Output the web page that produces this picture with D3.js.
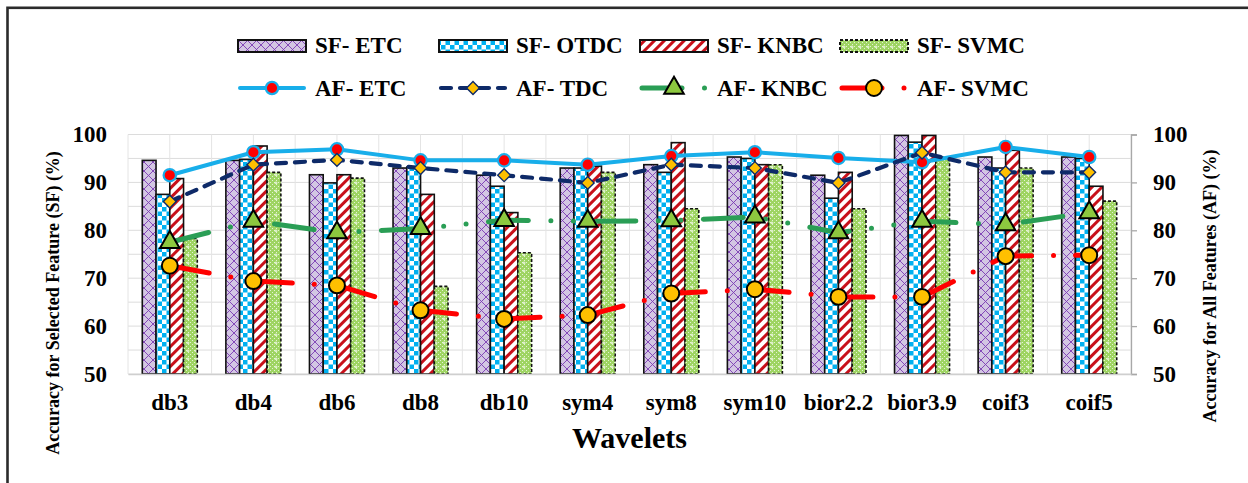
<!DOCTYPE html>
<html>
<head>
<meta charset="utf-8">
<script src="https://cdn.jsdelivr.net/npm/d3@7"></script>
<style>
  body { margin: 0; background: #fff; }
  text { font-family: "Liberation Serif", "Times New Roman", serif; font-weight: bold; fill: #000; }
</style>
</head>
<body>
<svg id="chart" width="1248" height="483"></svg>
<script>
// Wavelet families on the x axis
const categories = ["db3", "db4", "db6", "db8", "db10", "sym4", "sym8", "sym10", "bior2.2", "bior3.9", "coif3", "coif5"];

// Accuracy (%) using the selected features (bars, left axis)
const sfETC  = [94.6, 94.6, 91.6, 93.0, 91.5, 93.0, 93.7, 95.3, 91.5, 99.8, 95.3, 95.3];
const sfOTDC = [87.5, 94.8, 89.9, 93.2, 89.2, 93.0, 92.1, 95.0, 86.7, 98.4, 93.0, 95.0];
const sfKNBC = [90.8, 97.6, 91.6, 87.5, 83.7, 93.4, 98.3, 93.7, 92.1, 99.8, 96.7, 89.2];
const sfSVMC = [78.3, 92.1, 90.9, 68.3, 75.3, 92.1, 84.5, 93.7, 84.5, 95.3, 93.0, 86.1];

// Accuracy (%) using all features (lines, right axis)
const afETC  = [91.5, 96.3, 96.9, 94.6, 94.6, 93.7, 95.5, 96.3, 95.1, 94.2, 97.4, 95.3];
const afTDC  = [86.0, 93.7, 94.7, 93.0, 91.5, 89.9, 93.7, 93.0, 89.9, 96.2, 92.1, 92.1];
const afKNBC = [77.5, 81.9, 79.5, 80.4, 82.1, 81.9, 82.0, 82.8, 79.5, 81.9, 81.2, 83.7];
const afSVMC = [72.6, 69.4, 68.5, 63.3, 61.5, 62.3, 66.8, 67.7, 66.1, 66.1, 74.6, 74.8];

// Axis ticks
const yTicks = [50, 60, 70, 80, 90, 100];
const gridTicks = [50, 55, 60, 65, 70, 75, 80, 85, 90, 95, 100];

(function () {
const serif = '"Liberation Serif", "Times New Roman", serif';

const barSeries = [
  { name: "SF- ETC",  values: sfETC,  fill: "url(#pETC)",  dash: null },
  { name: "SF- OTDC", values: sfOTDC, fill: "url(#pOTDC)", dash: null },
  { name: "SF- KNBC", values: sfKNBC, fill: "url(#pKNBC)", dash: null },
  { name: "SF- SVMC", values: sfSVMC, fill: "url(#pSVMC)", dash: "3,2" }
];

const lineSeries = [
  { name: "AF- ETC",  values: afETC,  color: "#18AEEA", width: 4, dash: null, cap: "round",
    marker: "circle", mSize: 120, mFill: "#FF0000", mStroke: "#18AEEA", mStrokeW: 2.2 },
  { name: "AF- TDC",  values: afTDC,  color: "#0E2A68", width: 4.2, dash: "10,9", cap: "round",
    marker: "diamond", mSize: 82, mFill: "#FFC000", mStroke: "#0E2A68", mStrokeW: 1.4 },
  { name: "AF- KNBC", values: afKNBC, color: "#2A9E55", width: 5, dash: "40,22.5,0,22.5,0,22.5", cap: "round",
    marker: "triangle", mSize: 165, mFill: "#8DC83F", mStroke: "#000", mStrokeW: 2 },
  { name: "AF- SVMC", values: afSVMC, color: "#FF0000", width: 5, dash: "40,22,0,22", cap: "round",
    marker: "circle", mSize: 200, mFill: "#FFC000", mStroke: "#000", mStrokeW: 2 }
];

const svg = d3.select("#chart");
const plotL = 128, plotR = 1131, plotT = 134.5, plotB = 374;

const x = d3.scaleBand().domain(categories).range([plotL, plotR]).padding(0);
const groupW = 55;
const xInner = d3.scaleBand().domain(d3.range(barSeries.length))
  .range([(x.bandwidth() - groupW) / 2, (x.bandwidth() + groupW) / 2]).padding(0);
const y = d3.scaleLinear().domain([50, 100]).range([plotB, plotT]);
const y2 = d3.scaleLinear().domain([50, 100]).range([plotB, plotT]);

// Fill patterns for the bars
const defs = svg.append("defs");
const pE = defs.append("pattern").attr("id", "pETC").attr("patternUnits", "userSpaceOnUse")
  .attr("width", 9).attr("height", 9);
pE.append("rect").attr("width", 9).attr("height", 9).attr("fill", "#D3C6E3");
pE.append("path").attr("d", "M0,0L9,9M9,0L0,9").attr("stroke", "#7B3BB3").attr("stroke-width", 0.9);

const pO = defs.append("pattern").attr("id", "pOTDC").attr("patternUnits", "userSpaceOnUse")
  .attr("width", 9).attr("height", 9);
pO.append("rect").attr("width", 9).attr("height", 9).attr("fill", "#fff");
pO.append("rect").attr("width", 4.5).attr("height", 4.5).attr("fill", "#00B0F0");
pO.append("rect").attr("x", 4.5).attr("y", 4.5).attr("width", 4.5).attr("height", 4.5).attr("fill", "#00B0F0");

const pK = defs.append("pattern").attr("id", "pKNBC").attr("patternUnits", "userSpaceOnUse")
  .attr("width", 7).attr("height", 7).attr("patternTransform", "rotate(45)");
pK.append("rect").attr("width", 7).attr("height", 7).attr("fill", "#fff");
pK.append("rect").attr("width", 3).attr("height", 7).attr("fill", "#C8101A");

const pS = defs.append("pattern").attr("id", "pSVMC").attr("patternUnits", "userSpaceOnUse")
  .attr("width", 8).attr("height", 8);
pS.append("rect").attr("width", 8).attr("height", 8).attr("fill", "#9ED462");
[[0,0],[2,2],[4,0],[6,2],[0,4],[2,6],[4,4],[6,6]].forEach(([a, b]) =>
  pS.append("rect").attr("x", a).attr("y", b).attr("width", 1).attr("height", 1).attr("fill", "#E4F3D2"));
pS.append("path").attr("d", "M4,5.5v3M2.5,7h3").attr("stroke", "#fff").attr("stroke-width", 0.8);

// Outer frame
svg.append("rect").attr("x", 7.5).attr("y", 7.8).attr("width", 1400).attr("height", 700)
  .attr("fill", "none").attr("stroke", "#2b2b2b").attr("stroke-width", 2.6);

// Gridlines
const grid = svg.append("g");
grid.selectAll("line.h").data(gridTicks).join("line")
  .attr("x1", plotL).attr("x2", plotR).attr("y1", d => y(d)).attr("y2", d => y(d))
  .attr("stroke", "#DCDCDC").attr("stroke-width", 1);
const vEdges = [];
categories.forEach(c => { vEdges.push(x(c)); vEdges.push(x(c) + x.bandwidth() / 2); });
vEdges.push(plotR);
grid.selectAll("line.v").data(vEdges).join("line")
  .attr("x1", d => d).attr("x2", d => d).attr("y1", plotT).attr("y2", plotB)
  .attr("stroke", "#E4E4E4").attr("stroke-width", 1);

// Bars
const barG = svg.append("g");
barSeries.forEach((s, si) => {
  barG.append("g").selectAll("rect").data(s.values).join("rect")
    .attr("x", (d, i) => x(categories[i]) + xInner(si))
    .attr("width", xInner.bandwidth())
    .attr("y", d => y(d))
    .attr("height", d => y(50) - y(d))
    .attr("fill", s.fill)
    .attr("stroke", "#111")
    .attr("stroke-width", 1.6)
    .attr("stroke-dasharray", s.dash);
});

// Axes
const axL = svg.append("g").attr("transform", `translate(${plotL},0)`)
  .call(d3.axisLeft(y).tickValues(yTicks).tickSize(0).tickPadding(21).tickFormat(d3.format("d")));
axL.select(".domain").remove();
const axR = svg.append("g").attr("transform", `translate(${plotR},0)`)
  .call(d3.axisRight(y2).tickValues(yTicks).tickSize(6).tickPadding(16).tickFormat(d3.format("d")));
axR.select(".domain").attr("stroke", "#A8A8A8").attr("stroke-width", 1.3);
axR.selectAll(".tick line").attr("stroke", "#A8A8A8").attr("stroke-width", 1.3);
const axB = svg.append("g").attr("transform", `translate(0,${plotB})`)
  .call(d3.axisBottom(x).tickSize(0).tickPadding(20));
axB.select(".domain").attr("stroke", "#CFCFCF").attr("stroke-width", 1.5);
[axL, axR, axB].forEach(a => {
  a.attr("font-family", serif);
  a.selectAll("text").style("font-family", serif)
    .style("font-weight", "bold").style("font-size", "23px").attr("fill", "#000");
});

// Lines with markers
const symbolFor = {
  circle: d3.symbolCircle,
  diamond: d3.symbolSquare,
  triangle: d3.symbolTriangle
};
const lineGen = d3.line().x((d, i) => x(categories[i]) + x.bandwidth() / 2).y(d => y2(d));
lineSeries.forEach(s => {
  svg.append("path").datum(s.values).attr("d", lineGen)
    .attr("fill", "none").attr("stroke", s.color).attr("stroke-width", s.width)
    .attr("stroke-dasharray", s.dash).attr("stroke-linecap", s.cap).attr("stroke-linejoin", "round");
});
lineSeries.forEach(s => {
  svg.append("g").selectAll("path").data(s.values).join("path")
    .attr("d", d3.symbol().type(symbolFor[s.marker]).size(s.mSize))
    .attr("transform", (d, i) => `translate(${x(categories[i]) + x.bandwidth() / 2},${y2(d)})` +
      (s.marker === "diamond" ? " rotate(45)" : ""))
    .attr("fill", s.mFill).attr("stroke", s.mStroke).attr("stroke-width", s.mStrokeW);
});

// Legend
const legX = [238, 439, 640, 840];
const swW = 68;
const leg1 = svg.append("g");
barSeries.forEach((s, i) => {
  leg1.append("rect").attr("x", legX[i]).attr("y", 40).attr("width", swW).attr("height", 12)
    .attr("fill", s.fill).attr("stroke", "#111").attr("stroke-width", 2)
    .attr("stroke-dasharray", s.dash);
  leg1.append("text").attr("x", legX[i] + 77).attr("y", 53)
    .style("font-family", serif).style("font-size", "23px").text(s.name);
});
const leg2 = svg.append("g");
lineSeries.forEach((s, i) => {
  leg2.append("line").attr("x1", legX[i] + 2).attr("x2", legX[i] + swW - 2).attr("y1", 88).attr("y2", 88)
    .attr("stroke", s.color).attr("stroke-width", s.width)
    .attr("stroke-dasharray", s.dash).attr("stroke-linecap", s.cap);
  leg2.append("path").attr("d", d3.symbol().type(symbolFor[s.marker]).size(s.mSize))
    .attr("transform", `translate(${legX[i] + swW / 2},88)` + (s.marker === "diamond" ? " rotate(45)" : ""))
    .attr("fill", s.mFill).attr("stroke", s.mStroke).attr("stroke-width", s.mStrokeW);
  leg2.append("text").attr("x", legX[i] + 77).attr("y", 96)
    .style("font-family", serif).style("font-size", "23px").text(s.name);
});

// Axis titles
svg.append("text").attr("text-anchor", "middle").attr("transform", "translate(59,303) rotate(-90)")
  .style("font-family", serif).style("font-size", "18px").text("Accuracy for Selected Feature (SF) (%)");
svg.append("text").attr("text-anchor", "middle").attr("transform", "translate(1216,286) rotate(-90)")
  .style("font-family", serif).style("font-size", "18px").text("Accuracy for All Features (AF) (%)");
svg.append("text").attr("text-anchor", "middle").attr("x", (plotL + plotR) / 2).attr("y", 448)
  .style("font-family", serif).style("font-size", "30px").text("Wavelets");
})();
</script>
</body>
</html>
